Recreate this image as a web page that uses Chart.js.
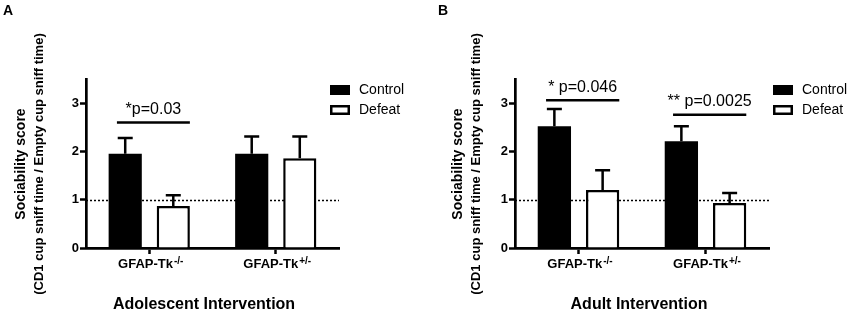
<!DOCTYPE html>
<html>
<head>
<meta charset="utf-8">
<script src="https://cdn.jsdelivr.net/npm/chart.js@4.4.1/dist/chart.umd.min.js"></script>
<style>
  body { margin: 0; background: #fff; }
  #wrap { position: relative; width: 850px; height: 314px; }
  canvas { position: absolute; top: 0; }
</style>
</head>
<body>
<div id="wrap">
  <canvas id="chartA" width="425" height="314" style="left:0"></canvas>
  <canvas id="chartB" width="425" height="314" style="left:425px"></canvas>
</div>
<script>
const genotypes = ["GFAP-Tk", "GFAP-Tk"];
const genotypeSup = ["-/-", "+/-"];
const groups = ["Control", "Defeat"];
const yTicks = [0, 1, 2, 3];
const chanceLevel = 1;

const adolescentControl = [1.95, 1.95];
const adolescentControlErr = [0.33, 0.36];
const adolescentDefeat = [0.87, 1.86];
const adolescentDefeatErr = [0.22, 0.45];
const adolescentStats = [{ group: 0, y: 2.6, text: "*p=0.03" }];

const adultControl = [2.52, 2.21];
const adultControlErr = [0.36, 0.31];
const adultDefeat = [1.20, 0.93];
const adultDefeatErr = [0.41, 0.21];
const adultStats = [
  { group: 0, y: 3.06, text: "* p=0.046" },
  { group: 1, y: 2.76, text: "** p=0.0025" }
];

const FONT = "'Liberation Sans', Arial, Helvetica, sans-serif";
Chart.defaults.font.family = FONT;
Chart.defaults.color = "#000";

const sketch = {
  id: "sketch",
  beforeDatasetsDraw(chart) {
    const { ctx, chartArea: a, scales: { y } } = chart;
    const py = Math.round(y.getPixelForValue(chanceLevel)) + 0.5;
    ctx.save();
    ctx.strokeStyle = "#000";
    ctx.lineWidth = 1.5;
    ctx.setLineDash([2, 2]);
    ctx.beginPath();
    ctx.moveTo(a.left, py);
    ctx.lineTo(a.right, py);
    ctx.stroke();
    ctx.restore();
  },
  afterDatasetsDraw(chart, args, o) {
    const { ctx, scales: { y } } = chart;
    ctx.save();
    ctx.strokeStyle = "#000";
    ctx.lineWidth = 2.5;
    // error bars (upper only)
    chart.data.datasets.forEach((ds, di) => {
      chart.getDatasetMeta(di).data.forEach((bar, i) => {
        const top = y.getPixelForValue(ds.data[i] + ds.errors[i]);
        ctx.beginPath();
        ctx.moveTo(bar.x, bar.y);
        ctx.lineTo(bar.x, top);
        ctx.moveTo(bar.x - 7.5, top);
        ctx.lineTo(bar.x + 7.5, top);
        ctx.stroke();
      });
    });
    // significance bars
    ctx.font = "16px " + FONT;
    ctx.fillStyle = "#000";
    ctx.textAlign = "center";
    ctx.textBaseline = "middle";
    o.stats.forEach(s => {
      const c = chart.getDatasetMeta(0).data[s.group];
      const d = chart.getDatasetMeta(1).data[s.group];
      const x1 = c.x - c.width * 0.25, x2 = d.x + d.width / 2;
      const py = y.getPixelForValue(s.y);
      ctx.beginPath();
      ctx.moveTo(x1, py);
      ctx.lineTo(x2, py);
      ctx.stroke();
      ctx.fillText(s.text, (x1 + x2) / 2, py - 13);
    });
    ctx.restore();
  },
  afterDraw(chart, args, o) {
    const { ctx, scales: { x } } = chart;
    ctx.save();
    ctx.fillStyle = "#000";

    // panel letter
    ctx.font = "bold 14px " + FONT;
    ctx.textAlign = "left";
    ctx.textBaseline = "middle";
    ctx.fillText(o.letter, o.letterX, 11);

    // category labels with superscripts
    ctx.textBaseline = "alphabetic";
    genotypes.forEach((g, i) => {
      ctx.font = "bold 13px " + FONT;
      const w1 = ctx.measureText(g).width;
      ctx.font = "bold 10px " + FONT;
      const w2 = ctx.measureText(genotypeSup[i]).width;
      const cx = x.getPixelForTick(i) + 1;
      const left = cx - (w1 + w2) / 2;
      ctx.font = "bold 13px " + FONT;
      ctx.fillText(g, left, 268);
      ctx.font = "bold 10px " + FONT;
      ctx.fillText(genotypeSup[i], left + w1 + 1, 264);
    });

    // x title
    ctx.font = "bold 16px " + FONT;
    ctx.textAlign = "center";
    ctx.textBaseline = "middle";
    ctx.fillText(o.xTitle, o.xTitleX, 305);

    // y title (two lines, rotated)
    ctx.save();
    ctx.translate(o.yTitleX, 164);
    ctx.rotate(-Math.PI / 2);
    ctx.font = "bold 14px " + FONT;
    ctx.fillText("Sociability score", 0, 0);
    ctx.font = "bold 13px " + FONT;
    ctx.fillText("(CD1 cup sniff time / Empty cup sniff time)", 0, 18);
    ctx.restore();

    // legend
    ctx.font = "14px " + FONT;
    ctx.textAlign = "left";
    chart.data.datasets.forEach((ds, i) => {
      const ly = 90 + i * 20;
      if (i === 0) {
        ctx.fillStyle = ds.backgroundColor;
        ctx.fillRect(o.legendX, ly - 5, 20, 10);
      } else {
        ctx.lineWidth = 2.5;
        ctx.strokeStyle = "#000";
        ctx.strokeRect(o.legendX + 1.25, ly - 3.75, 17.5, 7.5);
      }
      ctx.fillStyle = "#000";
      ctx.fillText(ds.label, o.legendX + 29, ly);
    });
    ctx.restore();
  }
};

function makePanel(id, control, controlErr, defeat, defeatErr, panel) {
  return new Chart(document.getElementById(id), {
    type: "bar",
    data: {
      labels: genotypes.map((g, i) => g + genotypeSup[i]),
      datasets: [
        { label: groups[0], data: control, errors: controlErr,
          backgroundColor: "#000", borderColor: "#000", borderWidth: 0 },
        { label: groups[1], data: defeat, errors: defeatErr,
          backgroundColor: "#fff", borderColor: "#000", borderWidth: 2.5 }
      ]
    },
    options: {
      responsive: false,
      animation: false,
      events: [],
      categoryPercentage: 0.76,
      barPercentage: 0.69,
      layout: { padding: { left: 0, right: panel.padRight, top: 79, bottom: 0 } },
      plugins: {
        legend: { display: false },
        tooltip: { enabled: false },
        sketch: panel
      },
      scales: {
        x: {
          grid: { display: true, drawOnChartArea: false, offset: false,
                  tickLength: 6, tickColor: "#000", tickWidth: 2.5 },
          border: { color: "#000", width: 2.7 },
          ticks: { display: false },
          afterFit: s => { s.height = 66; }
        },
        y: {
          min: 0,
          max: 3.5,
          grid: { drawOnChartArea: false, tickLength: 6, tickColor: "#000", tickWidth: 2.5 },
          border: { color: "#000", width: 2.7 },
          ticks: {
            stepSize: 1,
            includeBounds: false,
            padding: 1,
            color: "#000",
            font: { size: 13, weight: "bold" },
            callback: v => (yTicks.includes(v) ? String(v) : null)
          },
          afterFit: s => { s.width = panel.axisLeft; }
        }
      }
    },
    plugins: [sketch]
  });
}

makePanel("chartA", adolescentControl, adolescentControlErr, adolescentDefeat, adolescentDefeatErr, {
  letter: "A", letterX: 3, axisLeft: 86, padRight: 86,
  xTitle: "Adolescent Intervention", xTitleX: 204,
  yTitleX: 21, legendX: 330, stats: adolescentStats
});

makePanel("chartB", adultControl, adultControlErr, adultDefeat, adultDefeatErr, {
  letter: "B", letterX: 13, axisLeft: 90, padRight: 81,
  xTitle: "Adult Intervention", xTitleX: 214,
  yTitleX: 33, legendX: 348, stats: adultStats
});
</script>
</body>
</html>
